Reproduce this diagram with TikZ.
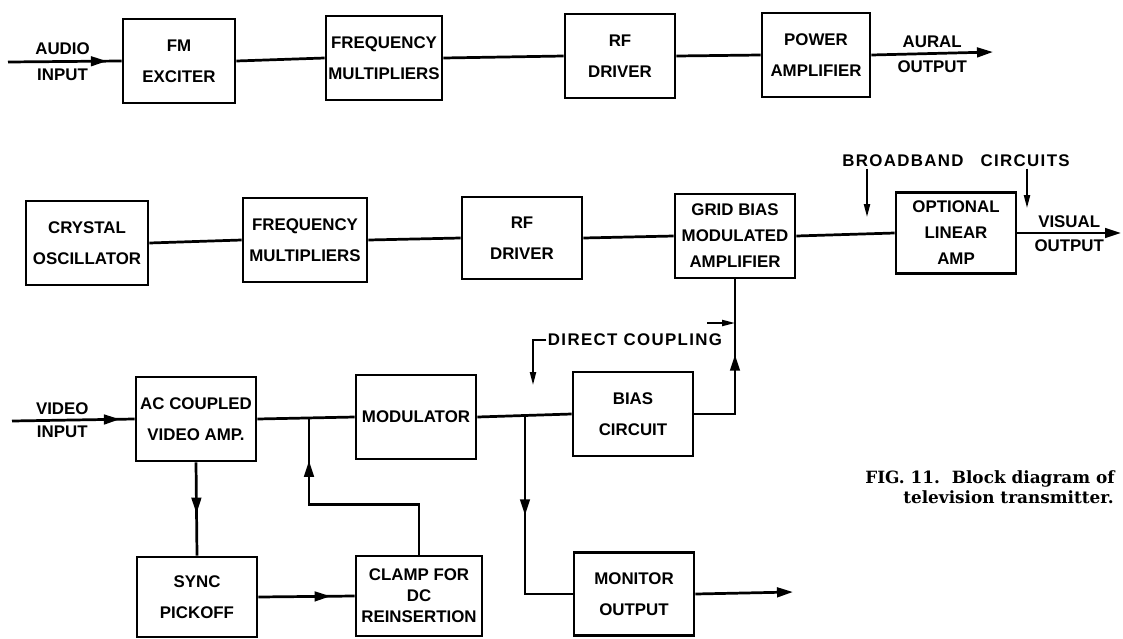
\documentclass[tikz,border=0pt]{standalone}
\usepackage{fontspec}
\setsansfont{Liberation Sans}
\newfontfamily\figfont{DejaVu Serif}
\usetikzlibrary{arrows.meta, decorations.markings}

\begin{document}
\begin{tikzpicture}[x=0.025cm, y=-0.025cm,
    blk/.style={draw, rectangle, line width=\w, align=center, inner sep=0pt,
        minimum width=3cm, minimum height=2.1cm,
        font=\sffamily\bfseries\fontsize{12}{22}\selectfont},
    blkthree/.style={blk, font=\sffamily\bfseries\fontsize{12}{18.5}\selectfont},
    lbl/.style={align=center, inner sep=1pt, font=\sffamily\bfseries\fontsize{12}{14}\selectfont},
    widelbl/.style={lbl, font=\sffamily\bfseries\fontsize{12}{14}\selectfont\addfontfeatures{LetterSpace=8}},
    wire/.style={line width=\w},
    midarrow/.style={postaction={decorate}, decoration={markings,
        mark=at position #1 with {\arrow{Triangle[length=4mm, width=2.4mm]}}}},
    tiparrow/.style={-{Triangle[length=4mm, width=2.4mm]}},
    thinarrow/.style={line width=0.45mm, -{Triangle[length=3.2mm, width=1.5mm]}}]
    \def\w{0.68mm}
    \useasboundingbox (0,0) rectangle (1123,638);

    % aural chain
    \node[blk, minimum width=2.8cm] (fmexc) at (179,61) {FM\\EXCITER};
    \node[blk, minimum width=2.9cm] (freqa) at (384,58) {FREQUENCY\\MULTIPLIERS};
    \node[blk, minimum width=2.75cm] (rfa) at (620,56) {RF\\DRIVER};
    \node[blk, minimum width=2.7cm] (pwr) at (816,55) {POWER\\AMPLIFIER};

    \coordinate (audin) at (8,62);
    \coordinate (aurout) at (993,52);
    \draw[wire, midarrow=0.87] (audin) -- node[lbl, pos=0.48, above=3pt]{AUDIO} node[lbl, pos=0.48, below=3pt]{INPUT} (fmexc.west);
    \draw[wire] (fmexc.east) -- (freqa.west);
    \draw[wire] (freqa.east) -- (rfa.west);
    \draw[wire] (rfa.east) -- (pwr.west);
    \draw[wire, tiparrow] (pwr.east) -- node[lbl, above=2pt]{AURAL} node[lbl, below=3pt]{OUTPUT} (aurout);

    % visual chain
    \node[blk, minimum width=3.05cm] (xtal) at (87,243) {CRYSTAL\\OSCILLATOR};
    \node[blk, minimum width=3.1cm] (freqb) at (305,240) {FREQUENCY\\MULTIPLIERS};
    \node[blk, minimum height=2.05cm] (rfb) at (522,238) {RF\\DRIVER};
    \node[blkthree] (grid) at (735,236) {GRID BIAS\\MODULATED\\AMPLIFIER};
    \node[blkthree, minimum height=2.03cm] (opt) at (956,233) {OPTIONAL\\LINEAR\\AMP};

    \draw[wire] (xtal.east) -- (freqb.west);
    \draw[wire] (freqb.east) -- (rfb.west);
    \draw[wire] (rfb.east) -- (grid.west);
    \draw[wire] (grid.east) -- (opt.west);
    \coordinate (visout) at (1121,233);
    \draw[wire, tiparrow] (opt.east) -- node[lbl, above=2pt]{VISUAL} node[lbl, below=3pt]{OUTPUT} (visout);

    \node[widelbl] (bbnd) at (956,161) {BROADBAND\quad CIRCUITS};
    \coordinate (bbl) at (867,217);
    \coordinate (bbr) at (1027,208);
    \draw[thinarrow] (bbnd.south -| bbl) -- (bbl);
    \draw[thinarrow] (bbnd.south -| bbr) -- (bbr);

    % video section
    \node[blk] (acamp) at (196,419) {AC COUPLED\\VIDEO AMP.};
    \node[blk] (modu) at (416,417) {MODULATOR};
    \node[blk] (bias) at (633,414) {BIAS\\CIRCUIT};
    \node[blk, minimum height=2cm] (sync) at (197,597) {SYNC\\PICKOFF};
    \node[blk, minimum width=3.15cm, minimum height=2cm,
        font=\sffamily\bfseries\fontsize{12}{15}\selectfont] (clamp) at (419,596) {CLAMP FOR\\DC\\REINSERTION};
    \node[blk, minimum height=2.08cm] (mon) at (634,594) {MONITOR\\OUTPUT};

    \coordinate (vidin) at (12,421);
    \draw[wire, midarrow=0.88] (vidin) -- node[lbl, pos=0.41, above=2pt]{VIDEO} node[lbl, pos=0.41, below=2pt]{INPUT} (acamp.west);
    \draw[wire] (acamp.east) -- (modu.west);
    \coordinate (jclamp) at (309,419);
    \draw[wire, midarrow=0.83] (clamp.north) -- ++(0,-50) -| (jclamp);
    \draw[wire, midarrow=0.55] (acamp.south) -- (sync.north);
    \draw[wire, midarrow=0.75] (sync.east) -- (clamp.west);

    \draw[wire] (modu.east) -- (bias.west);
    \coordinate (jmon) at (525,416);
    \draw[wire, midarrow=0.44] (jmon) |- (mon.west);
    \draw[wire, midarrow=0.57] (bias.east) -| (grid.south);
    \coordinate (monout) at (793,592);
    \draw[wire, tiparrow] (mon.east) -- (monout);

    \node[widelbl] (dcpl) at (635,340) {DIRECT COUPLING};
    \coordinate (dcdown) at (533,385);
    \draw[thinarrow] (dcpl.west) -| (dcdown);
    \coordinate (dca) at (707,323);
    \coordinate (dcb) at (735,323);
    \draw[thinarrow] (dca) -- (dcb);

    % caption
    \node[anchor=base west, inner sep=0pt, font=\figfont\bfseries\fontsize{12}{14}\selectfont] (figcap) at (865,483) {FIG. 11.\ \ Block diagram of};
    \node[anchor=base west, inner sep=0pt, font=\figfont\bfseries\fontsize{12}{14}\selectfont] (figcapb) at (903,503) {television transmitter.};
\end{tikzpicture}
\end{document}
